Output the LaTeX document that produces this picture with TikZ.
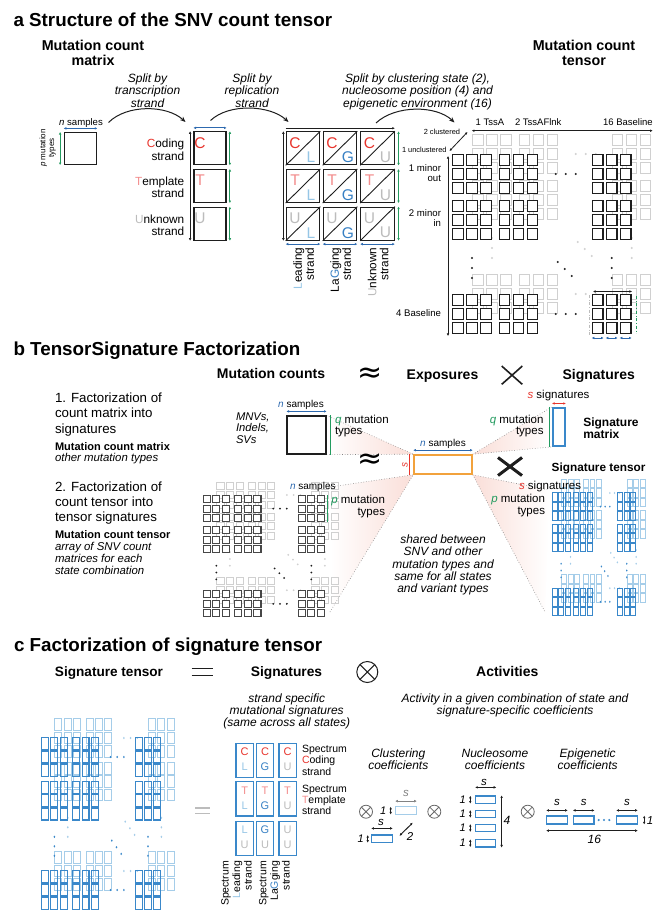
\documentclass[tikz,border=0pt]{standalone}
\usepackage{fontspec}
\setmainfont{Liberation Sans}
\newfontfamily\symfont{DejaVu Sans}
\usetikzlibrary{arrows.meta}

\definecolor{cRed}{RGB}{232,52,44}
\definecolor{cPink}{RGB}{243,140,140}
\definecolor{cGray}{RGB}{188,188,188}
\definecolor{cLight}{RGB}{208,208,208}
\definecolor{cLBlue}{RGB}{150,198,230}
\definecolor{cBlue}{RGB}{55,128,196}
\definecolor{cSig}{RGB}{58,136,202}
\definecolor{cSigL}{RGB}{165,205,233}
\definecolor{cGreen}{RGB}{35,155,95}
\definecolor{cDim}{RGB}{45,105,175}
\definecolor{cOrange}{RGB}{242,162,60}
\definecolor{cInk}{RGB}{30,30,30}
\definecolor{cFan}{RGB}{250,222,216}
\definecolor{cDot}{RGB}{130,130,130}

\newcommand{\fs}[2]{\fontsize{#1}{#2}\selectfont}
\newcommand{\rows}[2][c]{\begin{tabular}[t]{@{}#1@{}}#2\end{tabular}}

% cell size inside its 14 x 14 slot (redefined locally for the signature tensors)
\newcommand{\cellw}{10.4}
\newcommand{\cellh}{10.4}
% one layer of the state tensor: 3 blocks x 3 row groups, each a 3x3 set of cells
\newcommand{\cellgrid}[3]{%
  \foreach \bx in {0,46.5,139.7}{%
    \foreach \gy in {0,46,140}{%
      \foreach \i in {0,1,2}{%
        \foreach \j in {0,1,2}{%
          \path[#3] ({\bx+14*\i+#1+(12-\cellw)/2},{\gy+14*\j+#2+(12-\cellh)/2}) rectangle ++(\cellw,\cellh);%
        }}}}}
% ellipsis dots between the blocks of one layer
\newcommand{\griddots}[4]{%
  \foreach \px/\py in {103.7/20,113.7/20,123.7/20,103.7/160,113.7/160,123.7/160,20/104,20/114,20/124,159.7/104,159.7/114,159.7/124,105.7/108,112.7/115,119.7/122}{%
    \fill[#3] ({\px+#1},{\py+#2}) circle (#4);}}
% clustered layer behind, unclustered layer in front
\newcommand{\statetensor}[5]{%
  \cellgrid{20}{-20}{#1}\griddots{20}{-20}{#2}{#5}%
  \cellgrid{0}{0}{#3}\griddots{0}{0}{#4}{#5}}

\begin{document}
\begin{tikzpicture}[x=1pt, y=-1pt, >={Latex[length=2.6pt,width=2.6pt]},
  txt/.style={inner sep=0pt, outer sep=0pt},
  cbox/.style={draw=cInk, line width=1.2pt, fill=white, inner sep=0pt},
  sbox/.style={draw=cSig, line width=1.3pt, inner sep=0pt, minimum width=17.5pt, minimum height=34.2pt},
  cfbox/.style={draw=cSig, line width=1.2pt, inner sep=0pt, minimum width=20.4pt, minimum height=7.6pt},
  dimg/.style={<->, cGreen, line width=0.9pt},
  dimb/.style={<->, cDim, line width=0.9pt},
  dimk/.style={<->, cInk, line width=0.8pt},
  bigarc/.style={-{Stealth[length=5.5pt,width=4.5pt]}, cInk, line width=1pt},
  fan/.style={cDot, line width=0.6pt, dotted},
  otim/.style={circle, draw=cInk, inner sep=0pt, line width=1pt, minimum size=21pt,
    path picture={\draw[cInk, line width=1pt] (path picture bounding box.north west) -- (path picture bounding box.south east) (path picture bounding box.south west) -- (path picture bounding box.north east);}},
  otims/.style={circle, draw=cDot!80!black, inner sep=0pt, line width=0.8pt, minimum size=13pt,
    path picture={\draw[cDot!80!black, line width=0.8pt] (path picture bounding box.north west) -- (path picture bounding box.south east) (path picture bounding box.south west) -- (path picture bounding box.north east);}},
]
\useasboundingbox[fill=white] (0,0) rectangle (659,910);

% ================= a: structure of the SNV count tensor =================
\node[txt, anchor=base west, font=\fs{18.8}{20}\bfseries] (ta) at (13.5,26.5) {a Structure of the SNV count tensor};
\node[txt, anchor=base, font=\fs{14.3}{14.5}\bfseries] (hmat) at (93,50.5) {\rows{Mutation count\\matrix}};
\node[txt, anchor=base, font=\fs{14.3}{14.5}\bfseries] (hten) at (584,50.5) {\rows{Mutation count\\tensor}};

\node[txt, anchor=base, font=\fs{12}{12.5}\itshape] (sp1) at (147.5,82) {\rows{Split by\\transcription\\strand}};
\node[txt, anchor=base, font=\fs{12}{12.5}\itshape] (sp2) at (252,82) {\rows{Split by\\replication\\strand}};
\node[txt, anchor=base, font=\fs{12}{12.5}\itshape] (sp3) at (417.5,82) {\rows{Split by clustering state (2),\\nucleosome position (4) and\\epigenetic environment (16)}};

\coordinate (p1s) at (108.5,122.5); \coordinate (p1e) at (185.5,122);
\draw[bigarc] (p1s) .. controls (127,104) and (167,105) .. (p1e);
\coordinate (p2s) at (210.5,120.5); \coordinate (p2e) at (288.5,122);
\draw[bigarc] (p2s) .. controls (229,103) and (270,105) .. (p2e);
\coordinate (p3s) at (376,123); \coordinate (p3e) at (454.5,122.5);
\draw[bigarc] (p3s) .. controls (395,105) and (436,105) .. (p3e);

% count matrix
\node[cbox, minimum width=32.5pt, minimum height=32pt] (m0) at (80.5,148.5) {};
\draw[dimb] ([yshift=3.5pt]m0.north west) -- ([yshift=3.5pt]m0.north east);
\draw[dimg] ([xshift=-3.5pt]m0.north west) -- ([xshift=-3.5pt]m0.south west);
\node[txt, anchor=base, font=\fs{9.6}{10}] (nsa) at (81,125) {\textit{n} samples};
\node[txt, rotate=90, font=\fs{8}{8.6}] (pma) at (48,148) {\rows{\textit{p} mutation\\types}};

% transcription strands
\foreach \nm/\yy/\ll/\lc in {sC/148.3/C/cRed, sT/186/T/cPink, sU/223.7/U/cGray}{
  \node[cbox, minimum width=32pt, minimum height=33pt] (\nm) at (210,\yy) {};
  \node[txt, font=\fs{15.5}{16}, text=\lc] at (200,\yy-5.6) {\ll};
  \draw[dimg] ([xshift=3.3pt]\nm.north east) -- ([xshift=3.3pt]\nm.south east);
}
\draw[dimb] ([yshift=3.3pt]sC.north west) -- ([yshift=3.3pt]sC.north east);
\draw[<->, cInk, line width=0.9pt] ([xshift=-3.3pt]sC.north west) -- ([xshift=-3.3pt]sU.south west);
\node[txt, anchor=base east, font=\fs{11.8}{12.3}] (lc) at (184.3,147.7) {\rows[r]{\textcolor{cRed}{C}oding\\strand}};
\node[txt, anchor=base east, font=\fs{11.8}{12.3}] (lt) at (184.3,185.5) {\rows[r]{\textcolor{cPink}{T}emplate\\strand}};
\node[txt, anchor=base east, font=\fs{11.8}{12.3}] (lu) at (184.3,223.3) {\rows[r]{\textcolor{cGray}{U}nknown\\strand}};

% transcription x replication strands
\foreach \r/\yy/\rl/\rc in {1/148.3/C/cRed, 2/186/T/cPink, 3/223.7/U/cGray}{
  \foreach \c/\xx/\cl/\cc in {1/303/L/cLBlue, 2/340/G/cBlue, 3/377.5/U/cGray}{
    \node[cbox, minimum width=33.5pt, minimum height=33pt] (g\r\c) at (\xx,\yy) {};
    \draw[cInk, line width=0.9pt] (g\r\c.south west) -- (g\r\c.north east);
    \node[txt, font=\fs{15.5}{16}, text=\rc] at (\xx-8,\yy-5.6) {\rl};
    \node[txt, font=\fs{15.5}{16}, text=\cc] at (\xx+8,\yy+9) {\cl};
  }
  \draw[dimg] ([xshift=3.7pt]g\r3.north east) -- ([xshift=3.7pt]g\r3.south east);
}
\foreach \c in {1,2,3}{
  \draw[dimb] ([yshift=-3.3pt]g3\c.south west) -- ([yshift=-3.3pt]g3\c.south east);
}
\draw[->, cInk, line width=0.9pt] ([yshift=3pt]g11.north west) -- ([yshift=3pt]g13.north east);
\draw[<->, cInk, line width=0.9pt] ([xshift=-2.3pt]g11.north west) -- ([xshift=-2.3pt]g31.south west);
\node[txt, rotate=90, anchor=base east, font=\fs{11.8}{11.8}] (rl1) at (301.8,247.5) {\rows[r]{\textcolor{cLBlue}{L}eading\\strand}};
\node[txt, rotate=90, anchor=base east, font=\fs{11.8}{11.8}] (rl2) at (338.8,247.5) {\rows[r]{La\textcolor{cBlue}{G}ging\\strand}};
\node[txt, rotate=90, anchor=base east, font=\fs{11.8}{11.8}] (rl3) at (376.3,247.5) {\rows[r]{\textcolor{cGray}{U}nknown\\strand}};

% count tensor
\begin{scope}[shift={(452,154)}]
  \statetensor{draw=cLight, line width=0.9pt}{cLight}{draw=cInk, fill=white, line width=1.25pt}{cInk}{1.1}
\end{scope}
\node[txt, anchor=base west, font=\fs{9.5}{10}] (l1) at (475.7,125) {1 TssA};
\node[txt, anchor=base west, font=\fs{9.5}{10}] (l2) at (515,125) {2 TssAFlnk};
\node[txt, anchor=base east, font=\fs{9.5}{10}] (l16) at (652.7,125) {16 Baseline};
\coordinate (el) at (471.7,130.7); \coordinate (er) at (652.7,130.7);
\draw[<->, cInk, line width=0.9pt] (el) -- (er);
\node[txt, anchor=base east, font=\fs{7.4}{8}] (cl2) at (460,134) {2 clustered};
\node[txt, anchor=base east, font=\fs{7.4}{8}] (cl1) at (446.5,152) {1 unclustered};
\coordinate (cu) at (449.5,151); \coordinate (cc) at (467.5,132);
\draw[<->, cInk, line width=0.8pt] (cu) -- (cc);
\coordinate (vt) at (448,156); \coordinate (vb) at (448,336);
\draw[<->, cInk, line width=0.9pt] (vt) -- (vb);
\node[txt, anchor=base east, font=\fs{9.6}{10}] (r1) at (441,171.7) {\rows[r]{1 minor\\out}};
\node[txt, anchor=base east, font=\fs{9.6}{10}] (r2) at (441,216.7) {\rows[r]{2 minor\\in}};
\node[txt, anchor=base east, font=\fs{9.6}{10}] (r4) at (441,316.7) {4 Baseline};
\draw[<->, cInk, line width=0.7pt] (593,291.5) -- (632,291.5);
\draw[cGray, dash dot, line width=0.6pt] (589,295) -- (589,336);
\draw[cGreen, dash dot, line width=0.6pt] (636.7,296) -- (636.7,333);
\foreach \xx in {591.7,605.7,619.7}{\draw[<->, cDim, line width=0.7pt] (\xx,338) -- (\xx+12,338);}

% ================= b: TensorSignature factorization =================
\node[txt, anchor=base west, font=\fs{18.8}{20}\bfseries] (tb) at (13.5,355) {b TensorSignature Factorization};
\node[txt, anchor=base, font=\fs{14}{15}\bfseries] (hmc) at (271,378.5) {Mutation counts};
\node[txt, font=\symfont\fs{30}{30}] (ap1) at (370,375) {≈};
\node[txt, anchor=base, font=\fs{14}{15}\bfseries] (hex) at (442.5,379) {Exposures};
\node[txt, minimum width=20.6pt, minimum height=18.3pt] (x1) at (512,375.2) {};
\draw[cInk, line width=1.6pt] (x1.north west) -- (x1.south east) (x1.south west) -- (x1.north east);
\node[txt, anchor=base, font=\fs{14}{15}\bfseries] (hsg) at (598.7,379) {Signatures};

\node[txt, anchor=base west, font=\fs{13.3}{15.5}] (f1) at (55,402) {\rows[l]{1. Factorization of\\count matrix into\\signatures}};
\node[txt, anchor=base west, font=\fs{11}{12}\bfseries] (f1b) at (55,450) {Mutation count matrix};
\node[txt, anchor=base west, font=\fs{11.4}{12}\itshape] (f1c) at (55,461.5) {other mutation types};
\node[txt, anchor=base west, font=\fs{13.3}{15.2}] (f2) at (55,491.5) {\rows[l]{2. Factorization of\\count tensor into\\tensor signatures}};
\node[txt, anchor=base west, font=\fs{11}{12}\bfseries] (f2b) at (55,538) {Mutation count tensor};
\node[txt, anchor=base west, font=\fs{11.4}{12.3}\itshape] (f2c) at (55,550) {\rows[l]{array of SNV count\\matrices for each\\state combination}};

% main boxes of the factorization
\node[cbox, minimum width=39pt, minimum height=38pt] (cm) at (306.5,435) {};
\node[draw=cOrange, line width=1.6pt, inner sep=0pt, minimum width=58pt, minimum height=19pt] (ex) at (443,464.5) {};
\node[draw=cSig, line width=1.6pt, inner sep=0pt, minimum width=12.3pt, minimum height=38.3pt] (sm) at (558.9,426.9) {};

% projection fans, faded away from the exposure matrix
\coordinate (tl) at (330,487); \coordinate (tb2) at (330,612);
\coordinate (sl) at (549,490); \coordinate (sb) at (545,612);
\shade[left color=white, right color=cFan] (cm.north east) -- (ex.north west) -- (cm.south east) -- cycle;
\shade[left color=white, right color=cFan] (tl) -- (ex.south west) -- (tb2) -- cycle;
\shade[left color=cFan, right color=white] (ex.north east) -- (sm.north west) -- (sm.south west) -- cycle;
\shade[left color=cFan, right color=white] (ex.south east) -- (sl) -- (sb) -- cycle;
\draw[fan] (cm.north east) -- (ex.north west) (cm.south east) -- (ex.north west);
\draw[fan] (tl) -- (ex.south west) (tb2) -- (ex.south west);
\draw[fan] (ex.north east) -- (sm.north west) (ex.north east) -- (sm.south west);
\draw[fan] (ex.south east) -- (sl) (ex.south east) -- (sb);
% boxes again on top of the fans
\node[cbox, minimum width=39pt, minimum height=38pt] at (cm) {};
\node[draw=cOrange, fill=white, line width=1.6pt, inner sep=0pt, minimum width=58pt, minimum height=19pt] at (ex) {};
\node[draw=cSig, fill=white, line width=1.6pt, inner sep=0pt, minimum width=12.3pt, minimum height=38.3pt] at (sm) {};

\node[txt, anchor=base west, font=\fs{11.2}{11.8}\itshape] (mnv) at (236,420) {\rows[l]{MNVs,\\Indels,\\SVs}};
\node[txt, anchor=base, font=\fs{10}{10}] (nsb) at (301,407.5) {\textcolor{cDim}{\textit{n}} samples};
\draw[dimb] ([yshift=4pt]cm.north west) -- ([yshift=4pt]cm.north east);
\draw[cGreen, line width=0.8pt] ([xshift=3.5pt]cm.north east) -- ([xshift=3.5pt]cm.south east);
\node[txt, anchor=base west, font=\fs{11.5}{11.8}] (qa) at (335,423) {\rows[l]{\textcolor{cGreen}{\textit{q}} mutation\\types}};

\node[txt, anchor=base, font=\fs{10}{10}] (nse) at (443,446.5) {\textcolor{cDim}{\textit{n}} samples};
\draw[dimb] ([yshift=4pt]ex.north west) -- ([yshift=4pt]ex.north east);
\draw[cRed, line width=0.9pt] ([xshift=-3.5pt]ex.north west) -- ([xshift=-3.5pt]ex.south west);
\node[txt, rotate=90, font=\fs{10}{10}\itshape, text=cRed] (se) at (405,464.5) {s};

\node[txt, anchor=base, font=\fs{11.5}{12}] (ssa) at (558.5,398) {\textcolor{cRed}{\textit{s}} signatures};
\draw[<->, cRed, line width=0.9pt] ([yshift=3.5pt]sm.north west) -- ([yshift=3.5pt]sm.north east);
\draw[cGreen, line width=0.8pt] ([xshift=-3pt]sm.north west) -- ([xshift=-3pt]sm.south west);
\node[txt, anchor=base east, font=\fs{11.5}{11.8}] (qb) at (543.5,423) {\rows[r]{\textcolor{cGreen}{\textit{q}} mutation\\types}};
\node[txt, anchor=base west, font=\fs{12}{12.5}\bfseries] (smt) at (583.3,426) {\rows[l]{Signature\\matrix}};

\node[txt, font=\symfont\fs{30}{30}] (ap2) at (370,461.5) {≈};
\node[txt, minimum width=24pt, minimum height=18pt] (x2) at (510,466.5) {};
\draw[cInk, line width=3pt] (x2.north west) -- (x2.south east) (x2.south west) -- (x2.north east);
\node[txt, anchor=base west, font=\fs{11.8}{12}\bfseries] (stt) at (551.7,471) {Signature tensor};

% count tensor (b)
\begin{scope}[shift={(202.7,495)}, scale=0.68]
  \statetensor{draw=cLight, line width=0.7pt}{cLight}{draw=black!72, fill=white, line width=1.05pt}{cInk}{1.5}
\end{scope}
\node[txt, anchor=base west, font=\fs{10}{10}] (nst) at (290,489) {\textcolor{cDim}{\textit{n}} samples};
\draw[cGreen, line width=0.8pt] (327.8,495) -- (327.8,522);
\node[txt, anchor=base east, font=\fs{11.5}{12}] (pt) at (385,503) {\rows[r]{\textcolor{cGreen}{\textit{p}} mutation\\types}};

% signature tensor (b): narrow, tall cells
\begin{scope}[shift={(551.7,493)}, xscale=0.47, yscale=0.68]
  \renewcommand{\cellh}{12.6}
  \statetensor{draw=cSigL, line width=0.8pt}{cSigL}{draw=cSig, line width=0.9pt}{cSig}{1.6}
\end{scope}
\node[txt, anchor=base west, font=\fs{11.5}{12}] (ssb) at (519,489.5) {\textcolor{cRed}{\textit{s}} signatures};
\node[txt, anchor=base east, font=\fs{11.5}{12}] (ps) at (545,502.5) {\rows[r]{\textcolor{cGreen}{\textit{p}} mutation\\types}};

\node[txt, anchor=base, font=\fs{12}{12.2}\itshape] (shr) at (443,543.5) {\rows{shared between\\SNV and other\\mutation types and\\same for all states\\and variant types}};

% ================= c: factorization of the signature tensor =================
\node[txt, anchor=base west, font=\fs{18.8}{20}\bfseries] (tc) at (14,651.5) {c Factorization of signature tensor};
\node[txt, anchor=base, font=\fs{13.6}{14}\bfseries] (hst) at (109,676) {Signature tensor};
\draw[cInk, line width=1.3pt] (191.7,668.5) -- (213.3,668.5) (191.7,675.5) -- (213.3,675.5);
\node[txt, anchor=base, font=\fs{13.8}{14}\bfseries] (hsg2) at (286.5,676) {Signatures};
\node[otim] (o1) at (367.3,672) {};
\node[txt, anchor=base, font=\fs{14}{14}\bfseries] (hac) at (507.3,676.5) {Activities};

\node[txt, anchor=base, font=\fs{12}{11.8}\itshape] (sss) at (286.7,702) {\rows{strand specific\\mutational signatures\\(same across all states)}};
\node[txt, anchor=base, font=\fs{12}{11.8}\itshape] (act) at (515,702) {\rows{Activity in a given combination of state and\\signature-specific coefficients}};

% signature tensor (c): narrow, tall cells
\begin{scope}[shift={(41,738)}, xscale=0.67, yscale=0.95]
  \renewcommand{\cellh}{12.6}
  \statetensor{draw=cSigL, line width=1pt}{cSigL}{draw=cSig, line width=1.1pt}{cSig}{1.3}
\end{scope}
\draw[cGray, line width=1.3pt] (195,808) -- (210,808) (195,813.5) -- (210,813.5);

% strand specific signatures
\foreach \r/\yy/\tl/\tc in {1/760.3/C/cRed, 2/798.9/T/cPink}{
  \foreach \c/\xx/\bl/\bc in {1/244.7/L/cLBlue, 2/265/G/cBlue, 3/287.6/U/cGray}{
    \node[sbox] (q\r\c) at (\xx,\yy) {};
    \node[txt, font=\fs{11}{11}, text=\tc] at (\xx,\yy-8.6) {\tl};
    \node[txt, font=\fs{11}{11}, text=\bc] at (\xx,\yy+6.4) {\bl};
  }}
\foreach \c/\xx/\tl/\tc in {1/244.7/L/cLBlue, 2/265/G/cBlue, 3/287.6/U/cGray}{
  \node[sbox] (q3\c) at (\xx,838.4) {};
  \node[txt, font=\fs{11}{11}, text=\tc] at (\xx,829.8) {\tl};
  \node[txt, font=\fs{11}{11}, text=cGray] at (\xx,844.8) {U};
}
\node[txt, anchor=base west, font=\fs{10.5}{11.7}] (spc) at (302,752) {\rows[l]{Spectrum\\\textcolor{cRed}{C}oding\\strand}};
\node[txt, anchor=base west, font=\fs{10.5}{11.2}] (spt) at (302,792) {\rows[l]{Spectrum\\\textcolor{cPink}{T}emplate\\strand}};
\node[txt, rotate=90, anchor=base east, font=\fs{10.5}{11.6}] (spl) at (228.5,861) {\rows[r]{Spectrum\\\textcolor{cLBlue}{L}eading\\strand}};
\node[txt, rotate=90, anchor=base east, font=\fs{10.5}{11.6}] (spg) at (266.3,861) {\rows[r]{Spectrum\\La\textcolor{cBlue}{G}ging\\strand}};

% activity coefficients
\node[txt, anchor=base, font=\fs{12}{11.8}\itshape] (kc) at (398.3,757) {\rows{Clustering\\coefficients}};
\node[txt, anchor=base, font=\fs{12}{11.8}\itshape] (kn) at (495,757) {\rows{Nucleosome\\coefficients}};
\node[txt, anchor=base, font=\fs{12}{11.8}\itshape] (ke) at (587.7,757) {\rows{Epigenetic\\coefficients}};
\node[otims] (o2) at (366,811.7) {};
\node[otims] (o3) at (434.3,811.7) {};
\node[otims] (o4) at (527.7,811.7) {};

% clustering
\node[cfbox, draw=cSigL] (ka) at (406,810.5) {};
\node[txt, font=\fs{11.5}{12}\itshape, text=cDot] at (406,793.5) {s};
\draw[<->, cDot, line width=0.8pt] ([yshift=5pt]ka.north west) -- ([yshift=5pt]ka.north east);
\node[txt, font=\fs{11}{11}\itshape] at (383.3,810.8) {1};
\draw[<->, cInk, line width=0.7pt] (390.7,806.7) -- (390.7,814.5);
\node[cfbox] (kb) at (382,838.8) {};
\node[txt, font=\fs{11.5}{12}\itshape] at (381,822) {s};
\draw[dimk] ([yshift=6pt]kb.north west) -- ([yshift=6pt]kb.north east);
\node[txt, font=\fs{11}{11}\itshape] at (360.7,838.8) {1};
\draw[<->, cInk, line width=0.7pt] (367.7,835) -- (367.7,842.7);
\coordinate (kd1) at (412.7,822.7); \coordinate (kd2) at (399.5,835.8);
\draw[<->, cInk, line width=0.9pt] (kd1) -- (kd2);
\node[txt, font=\fs{11.5}{12}\itshape] at (410,836.5) {2};

% nucleosome
\foreach \k/\yy in {1/799.7, 2/813.9, 3/828, 4/843.2}{
  \node[cfbox, minimum width=20pt, minimum height=7.5pt] (nb\k) at (485.7,\yy) {};
  \node[txt, font=\fs{11}{11}\itshape] at (462.7,\yy) {1};
  \draw[<->, cInk, line width=0.7pt] (470.3,\yy-3.9) -- (470.3,\yy+3.9);
}
\node[txt, font=\fs{11.5}{12}\itshape] at (484,782.7) {s};
\draw[dimk] ([yshift=8pt]nb1.north west) -- ([yshift=8pt]nb1.north east);
\draw[dimk, line width=1pt] ([xshift=5.3pt]nb1.north east) -- ([xshift=5.3pt]nb4.south east);
\node[txt, font=\fs{12}{12}\itshape] at (506.9,820) {4};

% epigenetic
\foreach \k/\xx in {1/557, 2/583.7, 3/627}{
  \node[cfbox, minimum height=8pt] (eb\k) at (\xx,820) {};
  \node[txt, font=\fs{11.5}{12}\itshape] at (\xx,802.7) {s};
  \draw[dimk] ([yshift=5pt]eb\k.north west) -- ([yshift=5pt]eb\k.north east);
}
\foreach \xx in {598.7,604,609.3}{\fill[cSig] (\xx,820) circle (1.2);}
\draw[<->, cInk, line width=0.7pt] (644.2,815.6) -- (644.2,824.4);
\node[txt, font=\fs{11.5}{12}\itshape] at (650,820.3) {1};
\draw[dimk, line width=1pt] ([yshift=-6pt]eb1.south west) -- ([yshift=-6pt]eb3.south east);
\node[txt, font=\fs{12}{12}\itshape] at (594.3,839.5) {16};

\end{tikzpicture}
\end{document}
